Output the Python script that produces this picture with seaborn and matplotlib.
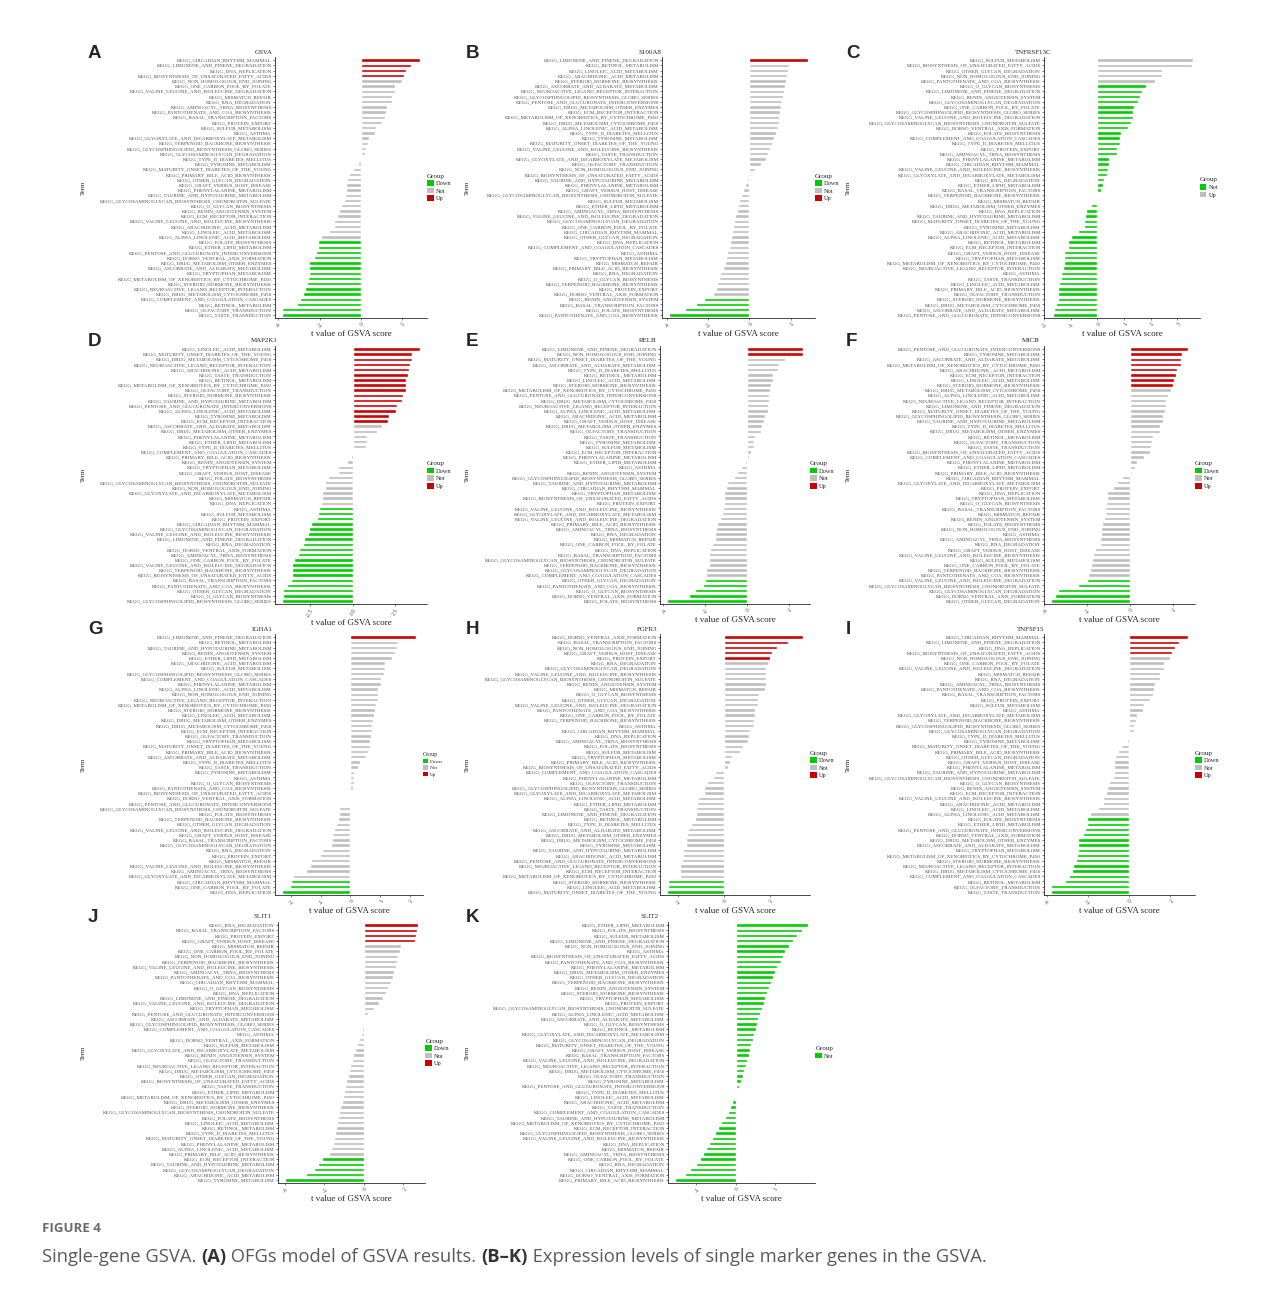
import matplotlib
matplotlib.use("Agg")
import matplotlib.pyplot as plt
from matplotlib.patches import Patch
import seaborn as sns
import pandas as pd

W, H = 1281, 1289

# KEGG pathway names keyed by short codes
KEGG = {
    "CIRC": "CIRCADIAN_RHYTHM_MAMMAL", "LIMO": "LIMONENE_AND_PINENE_DEGRADATION",
    "DNAR": "DNA_REPLICATION", "BUFA": "BIOSYNTHESIS_OF_UNSATURATED_FATTY_ACIDS",
    "NHEJ": "NON_HOMOLOGOUS_END_JOINING", "ONEC": "ONE_CARBON_POOL_BY_FOLATE",
    "VLID": "VALINE_LEUCINE_AND_ISOLEUCINE_DEGRADATION", "MISM": "MISMATCH_REPAIR",
    "RNAD": "RNA_DEGRADATION", "AMTR": "AMINOACYL_TRNA_BIOSYNTHESIS",
    "PANT": "PANTOTHENATE_AND_COA_BIOSYNTHESIS", "BASL": "BASAL_TRANSCRIPTION_FACTORS",
    "PROT": "PROTEIN_EXPORT", "SULF": "SULFUR_METABOLISM", "ASTH": "ASTHMA",
    "GLYX": "GLYOXYLATE_AND_DICARBOXYLATE_METABOLISM", "TERP": "TERPENOID_BACKBONE_BIOSYNTHESIS",
    "GSLG": "GLYCOSPHINGOLIPID_BIOSYNTHESIS_GLOBO_SERIES", "GAGD": "GLYCOSAMINOGLYCAN_DEGRADATION",
    "T2DM": "TYPE_II_DIABETES_MELLITUS", "TYRO": "TYROSINE_METABOLISM",
    "MODY": "MATURITY_ONSET_DIABETES_OF_THE_YOUNG", "PBAB": "PRIMARY_BILE_ACID_BIOSYNTHESIS",
    "OGLD": "OTHER_GLYCAN_DEGRADATION", "GVHD": "GRAFT_VERSUS_HOST_DISEASE",
    "PHEN": "PHENYLALANINE_METABOLISM", "TAUR": "TAURINE_AND_HYPOTAURINE_METABOLISM",
    "GAGC": "GLYCOSAMINOGLYCAN_BIOSYNTHESIS_CHONDROITIN_SULFATE", "OGLB": "O_GLYCAN_BIOSYNTHESIS",
    "RENN": "RENIN_ANGIOTENSIN_SYSTEM", "ECMR": "ECM_RECEPTOR_INTERACTION",
    "VLIB": "VALINE_LEUCINE_AND_ISOLEUCINE_BIOSYNTHESIS", "ARAC": "ARACHIDONIC_ACID_METABOLISM",
    "LINO": "LINOLEIC_ACID_METABOLISM", "ALIN": "ALPHA_LINOLENIC_ACID_METABOLISM",
    "FOLB": "FOLATE_BIOSYNTHESIS", "ETHR": "ETHER_LIPID_METABOLISM",
    "PENT": "PENTOSE_AND_GLUCURONATE_INTERCONVERSIONS", "DORS": "DORSO_VENTRAL_AXIS_FORMATION",
    "DMOE": "DRUG_METABOLISM_OTHER_ENZYMES", "ASCO": "ASCORBATE_AND_ALDARATE_METABOLISM",
    "TRYP": "TRYPTOPHAN_METABOLISM", "XENO": "METABOLISM_OF_XENOBIOTICS_BY_CYTOCHROME_P450",
    "STER": "STEROID_HORMONE_BIOSYNTHESIS", "NEUR": "NEUROACTIVE_LIGAND_RECEPTOR_INTERACTION",
    "DMCP": "DRUG_METABOLISM_CYTOCHROME_P450", "COMP": "COMPLEMENT_AND_COAGULATION_CASCADES",
    "RETI": "RETINOL_METABOLISM", "OLFA": "OLFACTORY_TRANSDUCTION", "TASTE": "TASTE_TRANSDUCTION",
}

# ---- A: GSVA (also I: TNFSF15) ----
gsva_terms = ["CIRC", "LIMO", "DNAR", "BUFA", "NHEJ", "ONEC", "VLID", "MISM", "RNAD", "AMTR",
              "PANT", "BASL", "PROT", "SULF", "ASTH", "GLYX", "TERP", "GSLG", "GAGD", "T2DM",
              "TYRO", "MODY", "PBAB", "OGLD", "GVHD", "PHEN", "TAUR", "GAGC", "OGLB", "RENN",
              "ECMR", "VLIB", "ARAC", "LINO", "ALIN", "FOLB", "ETHR", "PENT", "DORS", "DMOE",
              "ASCO", "TRYP", "XENO", "STER", "NEUR", "DMCP", "COMP", "RETI", "OLFA", "TASTE"]
gsva_t = [2.87, 2.43, 2.21, 2.08, 1.97, 1.67, 1.67, 1.51, 1.49, 1.25, 1.21, 1.15, 1.02, 0.72, 0.69,
          0.38, 0.33, 0.25, 0.21, -0.03, -0.13, -0.38, -0.56, -0.69, -0.72, -0.74, -0.75, -0.80,
          -0.97, -1.07, -1.15, -1.28, -1.30, -1.54, -1.93, -2.05, -2.05, -2.16, -2.25, -2.49, -2.51,
          -2.52, -2.56, -2.61, -2.72, -2.80, -2.92, -3.11, -3.80, -3.82]

# ---- B: S100A8 ----
s100a8_terms = ["LIMO", "RETI", "LINO", "ARAC", "STER", "ASCO", "NEUR", "GSLG", "PENT", "DMOE",
                "ECMR", "XENO", "DMCP", "ALIN", "T2DM", "TYRO", "MODY", "VLIB", "TASTE", "GLYX",
                "OLFA", "NHEJ", "BUFA", "TAUR", "PHEN", "GVHD", "GAGC", "SULF", "ETHR", "AMTR",
                "VLID", "GAGD", "ONEC", "CIRC", "OGLD", "DNAR", "COMP", "ASTH", "TRYP", "MISM",
                "PBAB", "RNAD", "OGLB", "TERP", "PROT", "DORS", "RENN", "BASL", "FOLB", "PANT"]
s100a8_t = [2.85, 1.95, 1.90, 1.85, 1.80, 1.75, 1.70, 1.65, 1.60, 1.55, 1.50, 1.45, 1.42, 1.38, 1.30,
            1.20, 1.10, 1.00, 0.90, 0.80, 0.55, 0.30, 0.10, -0.10, -0.20, -0.30, -0.40, -0.50, -0.55,
            -0.60, -0.70, -0.75, -0.80, -0.85, -0.90, -0.95, -1.00, -1.10, -1.15, -1.20, -1.30,
            -1.40, -1.45, -1.55, -1.60, -1.75, -2.20, -2.60, -3.10, -3.90]

# ---- C: TNFRSF13C ----
tnfrsf13c_terms = ["SULF", "BUFA", "OGLD", "NHEJ", "PANT", "OGLB", "LIMO", "RENN", "GAGD", "ONEC",
                   "GSLG", "VLID", "GAGC", "DORS", "FOLB", "COMP", "T2DM", "PROT", "AMTR", "PHEN",
                   "CIRC", "VLIB", "GLYX", "RNAD", "ETHR", "BASL", "TERP", "MISM", "DMOE", "DNAR",
                   "TAUR", "MODY", "TYRO", "ARAC", "ALIN", "RETI", "ECMR", "GVHD", "TRYP", "XENO",
                   "NEUR", "ASTH", "TASTE", "LINO", "PBAB", "OLFA", "STER", "DMCP", "ASCO", "PENT"]
tnfrsf13c_t = [3.58, 3.56, 2.41, 2.41, 2.15, 1.81, 1.68, 1.61, 1.51, 1.38, 1.35, 1.33, 1.24, 1.14,
               0.90, 0.85, 0.83, 0.75, 0.75, 0.45, 0.44, 0.40, 0.35, 0.26, 0.20, 0.13, 0.04, -0.01,
               -0.24, -0.43, -0.45, -0.49, -0.50, -0.74, -0.98, -1.10, -1.10, -1.24, -1.25, -1.26,
               -1.29, -1.36, -1.38, -1.45, -1.46, -1.49, -1.49, -1.56, -1.64, -1.68]

# ---- D: MAP2K1 ----
map2k1_terms = ["LINO", "MODY", "DMCP", "NEUR", "ARAC", "TASTE", "RETI", "XENO", "OLFA", "STER",
                "TAUR", "PENT", "ALIN", "TYRO", "ECMR", "ASCO", "DMOE", "PHEN", "ETHR", "T2DM",
                "COMP", "PBAB", "RENN", "TRYP", "GVHD", "FOLB", "GAGC", "NHEJ", "GLYX", "MISM",
                "DNAR", "ASTH", "SULF", "PROT", "CIRC", "GAGD", "VLIB", "LIMO", "RNAD", "DORS",
                "AMTR", "ONEC", "VLID", "TERP", "BUFA", "BASL", "PANT", "OGLD", "OGLB", "GSLG"]
map2k1_t = [3.95, 3.48, 3.46, 3.34, 3.28, 3.26, 3.12, 3.10, 3.10, 2.96, 2.87, 2.57, 2.55, 2.15, 2.09,
            1.72, 1.42, 0.85, 0.85, 0.79, 0.01, -0.10, -0.32, -0.85, -0.87, -1.44, -1.60, -1.60,
            -1.80, -1.80, -1.88, -2.00, -2.04, -2.09, -2.47, -2.55, -2.63, -2.85, -2.94, -3.12,
            -3.20, -3.46, -3.56, -3.56, -3.58, -3.64, -3.87, -4.09, -4.11, -4.15]

# ---- E: RELB ----
relb_terms = ["LIMO", "NHEJ", "MODY", "ASCO", "T2DM", "RETI", "LINO", "STER", "XENO", "PENT",
              "DMCP", "NEUR", "ALIN", "ARAC", "GVHD", "DMOE", "OLFA", "TASTE", "TYRO", "SULF",
              "ECMR", "PHEN", "ETHR", "ASTH", "RENN", "GSLG", "TAUR", "CIRC", "TRYP", "BUFA",
              "PROT", "VLIB", "GLYX", "VLID", "PBAB", "AMTR", "RNAD", "MISM", "ONEC", "DNAR",
              "BASL", "GAGC", "TERP", "GAGD", "COMP", "OGLD", "PANT", "OGLB", "DORS", "FOLB"]
relb_t = [2.69, 2.69, 1.84, 1.52, 1.49, 1.25, 1.25, 1.17, 1.12, 1.07, 1.06, 1.02, 0.99, 0.88, 0.82,
          0.70, 0.69, 0.40, 0.34, 0.32, 0.18, 0.08, -0.10, -0.27, -0.46, -0.62, -0.96, -0.99,
          -1.09, -1.12, -1.12, -1.14, -1.22, -1.31, -1.46, -1.50, -1.54, -1.54, -1.68, -1.76,
          -1.81, -1.81, -1.84, -1.94, -1.97, -2.00, -2.11, -2.51, -2.78, -3.84]

# ---- F: MICB ----
micb_terms = ["PENT", "TYRO", "ASCO", "XENO", "ARAC", "ECMR", "LINO", "STER", "DMCP", "ALIN",
              "NEUR", "LIMO", "MODY", "GSLG", "TAUR", "T2DM", "DMOE", "RETI", "OLFA", "TASTE",
              "BUFA", "COMP", "PHEN", "ETHR", "PBAB", "CIRC", "GLYX", "PROT", "DNAR", "TRYP",
              "OGLB", "BASL", "MISM", "RENN", "FOLB", "NHEJ", "ASTH", "AMTR", "RNAD", "GVHD",
              "VLIB", "SULF", "ONEC", "TERP", "PANT", "VLID", "GAGC", "GAGD", "DORS", "OGLD"]
micb_t = [2.73, 2.46, 2.39, 2.39, 2.23, 2.16, 2.09, 2.04, 1.94, 1.79, 1.71, 1.71, 1.66, 1.56, 1.53,
          1.41, 1.39, 1.07, 1.03, 0.98, 0.95, 0.65, 0.33, 0.24, 0.08, -0.35, -0.62, -0.81, -1.06,
          -1.07, -1.14, -1.17, -1.18, -1.23, -1.31, -1.37, -1.37, -1.41, -1.42, -1.63, -1.71,
          -1.75, -1.83, -1.85, -1.97, -2.01, -2.45, -3.36, -3.52, -3.70]

# ---- G: IGHA1 ----
igha1_terms = ["LIMO", "RETI", "TAUR", "RENN", "ETHR", "ARAC", "SULF", "GSLG", "COMP", "PHEN",
               "ALIN", "NHEJ", "NEUR", "XENO", "STER", "LINO", "DMOE", "DMCP", "ECMR", "OLFA",
               "TRYP", "MODY", "PBAB", "ASCO", "T2DM", "TASTE", "TYRO", "ASTH", "OGLB", "PANT",
               "BUFA", "DORS", "PENT", "GAGC", "FOLB", "TERP", "OGLD", "VLID", "GVHD", "BASL",
               "GAGD", "RNAD", "PROT", "MISM", "VLIB", "AMTR", "GLYX", "CIRC", "ONEC", "DNAR"]
igha1_t = [2.21, 1.60, 1.56, 1.51, 1.40, 1.17, 1.16, 1.12, 1.04, 1.03, 0.93, 0.92, 0.91, 0.86, 0.81,
           0.78, 0.77, 0.73, 0.72, 0.70, 0.67, 0.64, 0.60, 0.51, 0.31, 0.24, 0.12, 0.12, 0.12, 0.08,
           0.03, 0.01, -0.01, -0.38, -0.38, -0.41, -0.49, -0.57, -0.61, -0.62, -0.65, -0.97, -1.03,
           -1.31, -1.37, -1.48, -1.94, -2.00, -2.02, -2.31]

# ---- H: FGFR3 ----
fgfr3_terms = ["DORS", "BASL", "NHEJ", "GVHD", "PROT", "RNAD", "GAGD", "VLIB", "GAGC", "RENN",
               "MISM", "OGLB", "OGLD", "VLID", "PANT", "ONEC", "TERP", "ASTH", "CIRC", "DNAR",
               "AMTR", "FOLB", "SULF", "TRYP", "PBAB", "BUFA", "COMP", "PHEN", "OLFA", "GSLG",
               "GLYX", "ALIN", "ETHR", "TASTE", "LIMO", "RETI", "T2DM", "ASCO", "DMOE", "DMCP",
               "TYRO", "TAUR", "ARAC", "PENT", "NEUR", "ECMR", "XENO", "STER", "LINO", "MODY"]
fgfr3_t = [3.43, 2.78, 2.29, 2.06, 2.00, 1.90, 1.81, 1.81, 1.80, 1.80, 1.77, 1.51, 1.48, 1.48, 1.35,
           1.33, 1.32, 1.30, 1.14, 1.07, 1.06, 0.83, 0.68, 0.36, 0.26, 0.17, -0.41, -0.48, -0.72,
           -0.87, -0.88, -1.14, -1.17, -1.20, -1.20, -1.26, -1.45, -1.57, -1.59, -1.64, -1.67,
           -1.77, -1.78, -1.83, -1.91, -1.93, -1.93, -2.41, -2.41, -2.48]

# ---- I: TNFSF15 (same ranking as panel A) ----
tnfsf15_terms = gsva_terms
tnfsf15_t = gsva_t

# ---- J: SLIT1 ----
slit1_terms = ["RNAD", "BASL", "PROT", "GVHD", "MISM", "ONEC", "NHEJ", "TERP", "VLIB", "AMTR",
               "PANT", "CIRC", "OGLB", "DNAR", "LIMO", "VLID", "TRYP", "PENT", "ASCO", "GSLG",
               "COMP", "ASTH", "DORS", "SULF", "GLYX", "RENN", "OLFA", "NEUR", "DMCP", "OGLD",
               "BUFA", "TASTE", "ETHR", "XENO", "DMOE", "STER", "GAGC", "FOLB", "LINO", "RETI",
               "T2DM", "MODY", "PHEN", "ALIN", "PBAB", "ECMR", "TAUR", "GAGD", "ARAC", "TYRO"]
slit1_t = [2.75, 2.70, 2.65, 2.60, 1.90, 1.80, 1.70, 1.65, 1.60, 1.50, 1.45, 1.35, 1.20, 1.10, 0.95,
           0.75, 0.50, 0.20, 0.05, -0.05, -0.10, -0.15, -0.25, -0.35, -0.45, -0.55, -0.60, -0.70,
           -0.75, -0.80, -0.90, -0.95, -1.00, -1.05, -1.10, -1.20, -1.25, -1.30, -1.35, -1.40,
           -1.45, -1.50, -1.55, -1.65, -1.75, -2.10, -2.30, -2.50, -2.90, -4.00]

# ---- K: SLIT2 ----
slit2_terms = ["ETHR", "FOLB", "SULF", "LIMO", "NHEJ", "ASTH", "BUFA", "PANT", "PHEN", "DMOE",
               "OGLD", "TERP", "RENN", "STER", "TRYP", "PROT", "GAGC", "ALIN", "ASCO", "OGLB",
               "RETI", "GLYX", "GAGD", "MODY", "GVHD", "BASL", "VLID", "NEUR", "DMCP", "OLFA",
               "TYRO", "PENT", "T2DM", "LINO", "ARAC", "TASTE", "COMP", "TAUR", "XENO", "ECMR",
               "GSLG", "VLIB", "DNAR", "MISM", "AMTR", "ONEC", "RNAD", "CIRC", "DORS", "PBAB"]
slit2_t = [1.85, 1.70, 1.55, 1.45, 1.35, 1.25, 1.20, 1.15, 1.05, 1.00, 0.95, 0.90, 0.85, 0.80, 0.75,
           0.72, 0.68, 0.62, 0.58, 0.55, 0.52, 0.48, 0.44, 0.40, 0.36, 0.33, 0.30, 0.26, 0.22, 0.18,
           0.13, 0.08, 0.03, -0.02, -0.08, -0.14, -0.20, -0.28, -0.36, -0.45, -0.52, -0.60, -0.68,
           -0.75, -0.82, -0.90, -1.00, -1.15, -1.30, -1.55]

# panel: letter, gene, terms, t, n_up, n_down, ticks, axes box (px: left, top, right, bottom)
panels = [
    ("A", "GSVA", gsva_terms, gsva_t, 4, 15, [-4, -2, 0, 2], (275, 57, 427, 318)),
    ("B", "S100A8", s100a8_terms, s100a8_t, 1, 4, [-4, -2, 0, 2], (662, 57, 815, 318)),
    ("C", "TNFRSF13C", tnfrsf13c_terms, tnfrsf13c_t, 5, 0, [-2, -1, 0, 1, 2, 3], (1044, 57, 1200, 318)),
    ("D", "MAP2K1", map2k1_terms, map2k1_t, 15, 19, [-2.5, 0.0, 2.5], (275, 346, 427, 604)),
    ("E", "RELB", relb_terms, relb_t, 2, 5, [-4, -2, 0, 2], (660, 346, 810, 604)),
    ("F", "MICB", micb_terms, micb_t, 8, 5, [-4, -2, 0, 2], (1044, 346, 1195, 604)),
    ("G", "IGHA1", igha1_terms, igha1_t, 1, 3, [-2, -1, 0, 1, 2], (275, 634, 423, 895)),
    ("H", "FGFR3", fgfr3_terms, fgfr3_t, 5, 3, [-2, 0, 2], (660, 634, 810, 895)),
    ("I", "TNFSF15", tnfsf15_terms, tnfsf15_t, 4, 15, [-4, -2, 0, 2], (1044, 634, 1195, 895)),
    ("J", "SLIT1", slit1_terms, slit1_t, 4, 5, [-4, -2, 0, 2], (278, 922, 425, 1183)),
    ("K", "SLIT2", slit2_terms, slit2_t, 0, 0, [-1, 0, 1], (668, 922, 815, 1183)),
]

# ggplot palette applied in order to whichever levels exist
GROUP_COLORS = ["#00CD00", "#BEBEBE", "#CD0000"]
LEVELS = ["Down", "Not", "Up"]
COL_X = [83, 467, 848]  # x of the "Term" label per column
LETTER_X = [88, 466, 846]

sns.set_theme(style="white")
plt.rcParams["font.family"] = ["Liberation Serif", "DejaVu Serif"]
plt.rcParams["axes.unicode_minus"] = False

fig = plt.figure(figsize=(W / 100, H / 100), dpi=100)
fig.patch.set_facecolor("white")

for i, (letter, gene, codes, tvals, n_up, n_down, ticks, box) in enumerate(panels):
    x0, y0, x1, y1 = box
    ax = fig.add_axes([x0 / W, 1 - y1 / H, (x1 - x0) / W, (y1 - y0) / H])
    n = len(codes)
    groups = ["Up"] * n_up + ["Not"] * (n - n_up - n_down) + ["Down"] * n_down
    df = pd.DataFrame({"Term": ["KEGG_" + KEGG[c] for c in codes], "t": tvals, "Group": groups})
    levels = [g for g in LEVELS if g in groups]
    palette = dict(zip(levels, GROUP_COLORS))
    sns.barplot(data=df, x="t", y="Term", hue="Group", hue_order=levels, palette=palette,
                dodge=False, width=0.68, saturation=1, orient="h", legend=False, ax=ax)

    lo, hi = min(min(tvals), 0), max(max(tvals), 0)
    pad = (hi - lo) * 0.05
    ax.set_xlim(lo - pad, hi + pad)
    ax.set_ylim(n - 0.4, -0.6)

    for s in ["top", "right"]:
        ax.spines[s].set_visible(False)
    for s in ["left", "bottom"]:
        ax.spines[s].set_color("black")
        ax.spines[s].set_linewidth(0.5)
    ax.set_xticks(ticks)
    ax.set_xticklabels([f"{v:.1f}" if isinstance(v, float) else str(v) for v in ticks],
                       rotation=60, ha="right", rotation_mode="anchor")
    ax.tick_params(axis="y", length=1.5, width=0.4, pad=0.8, labelsize=3.6, labelcolor="#4D4D4D",
                   left=True)
    ax.tick_params(axis="x", length=1.5, width=0.4, pad=1, labelsize=4.2, labelcolor="#4D4D4D",
                   bottom=True)
    ax.set_ylabel("")
    ax.set_xlabel("t value of GSVA score", fontsize=6.5, labelpad=1)

    col = i % 3
    cx = COL_X[col]
    fig.text(cx / W, 1 - (y0 + y1) / 2 / H, "Term", rotation=90, fontsize=5, ha="center", va="center")
    fig.text(LETTER_X[col] / W, 1 - (y0 - 4) / H, letter, fontsize=13.5, fontweight="bold",
             family="Liberation Sans", ha="left", va="center")
    title_x = (cx + x1 + 18) / 2
    fig.text(title_x / W, 1 - (y0 - 5) / H, gene, fontsize=5, ha="center", va="center")

    handles = [Patch(facecolor=palette[g], edgecolor="none", label=g) for g in levels]
    fs = 3.8 if letter == "G" else 4.6
    leg = ax.legend(handles=handles, title="Group", loc="center left", bbox_to_anchor=(0.98, 0.5),
                    frameon=False, fontsize=fs, title_fontsize=fs + 0.4, handlelength=1.0,
                    handleheight=1.0, handletextpad=0.4, labelspacing=0.25, borderpad=0)
    leg._legend_box.align = "left"

# figure caption
fig.text(42 / W, 1 - 1229 / H, "FIGURE 4", fontsize=9.5, family="Open Sans", fontweight="bold",
         color="#6B6B6B", ha="left", va="center")

runs = [("Single-gene GSVA. ", "normal", "#5A5A5A"), ("(A)", "bold", "#333333"),
        (" OFGs model of GSVA results. ", "normal", "#5A5A5A"), ("(B\u2013K)", "bold", "#333333"),
        (" Expression levels of single marker genes in the GSVA.", "normal", "#5A5A5A")]
fig.canvas.draw()
renderer = fig.canvas.get_renderer()
xpos = 42
for txt, weight, color in runs:
    t = fig.text(xpos / W, 1 - 1262 / H, txt, fontsize=13.2, family="Open Sans", fontweight=weight,
                 color=color, ha="left", va="baseline")
    bb = t.get_window_extent(renderer=renderer)
    xpos += bb.width

fig.savefig("out.png", dpi=100, facecolor="white")
